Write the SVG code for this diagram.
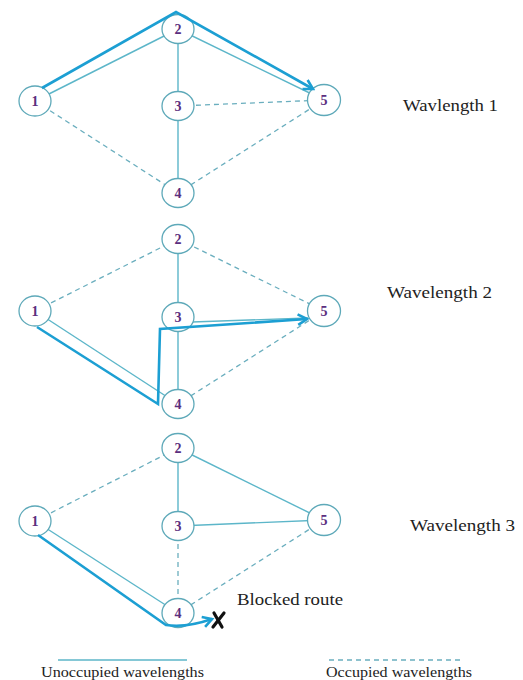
<svg xmlns="http://www.w3.org/2000/svg" width="523" height="680" viewBox="0 0 523 680">
  <style>
    .edge { stroke: #5cb6c9; stroke-width: 1.4; fill: none; }
    .occ { stroke: #6aaebe; stroke-width: 1.3; fill: none; stroke-dasharray: 5 4; }
    .route { stroke: #1c9fd3; stroke-width: 2.6; fill: none; stroke-linejoin: miter; marker-end: url(#arrow); }
    .node ellipse { fill: #ffffff; stroke: #5ea9b9; stroke-width: 1.3; }
    .node text { font-family: "Liberation Serif", "DejaVu Serif", serif; font-size: 14px; font-weight: bold; fill: #5b2e7e; text-anchor: middle; }
    .label { font-family: "Liberation Serif", "DejaVu Serif", serif; font-size: 17px; fill: #222222; }
    .legend { font-family: "Liberation Serif", "DejaVu Serif", serif; font-size: 14px; fill: #222222; }
  </style>
  <defs>
    <marker id="arrow" viewBox="0 0 10 10" refX="8" refY="5" markerWidth="5" markerHeight="5" orient="auto" markerUnits="strokeWidth">
      <path d="M1,1 L8,5 L1,9" fill="none" stroke="#1c9fd3" stroke-width="2"/>
    </marker>
  </defs>

  <!-- links per wavelength plane -->
  <g id="connectors">
    <!-- plane 1 -->
    <line class="edge" x1="35" y1="101" x2="178" y2="29"/>
    <line class="edge" x1="178" y1="29" x2="324" y2="100"/>
    <line class="edge" x1="178" y1="29" x2="178" y2="106"/>
    <line class="edge" x1="178" y1="106" x2="178" y2="193"/>
    <line class="occ" x1="178" y1="106" x2="324" y2="100"/>
    <line class="occ" x1="35" y1="101" x2="178" y2="193"/>
    <line class="occ" x1="324" y1="100" x2="178" y2="193"/>

    <!-- plane 2 -->
    <line class="occ" x1="35" y1="311" x2="178" y2="239"/>
    <line class="occ" x1="178" y1="239" x2="324" y2="311"/>
    <line class="edge" x1="178" y1="239" x2="178" y2="317"/>
    <line class="edge" x1="178" y1="317" x2="178" y2="404"/>
    <line class="edge" x1="35" y1="311" x2="178" y2="404"/>
    <line class="edge" x1="192" y1="322" x2="308" y2="318"/>
    <line class="occ" x1="324" y1="311" x2="178" y2="404"/>

    <!-- plane 3 -->
    <line class="occ" x1="35" y1="521" x2="178" y2="448"/>
    <line class="edge" x1="178" y1="448" x2="324" y2="520"/>
    <line class="edge" x1="178" y1="448" x2="178" y2="526"/>
    <line class="edge" x1="178" y1="526" x2="324" y2="520"/>
    <line class="occ" x1="178" y1="526" x2="178" y2="613"/>
    <line class="edge" x1="35" y1="521" x2="178" y2="613"/>
    <line class="occ" x1="324" y1="520" x2="178" y2="613"/>
  </g>

  <!-- plane 1 nodes -->
  <g id="p1-n1" class="node"><ellipse cx="35" cy="101" rx="16" ry="15"/><text x="35" y="106">1</text></g>
  <g id="p1-n2" class="node"><ellipse cx="178" cy="29" rx="16" ry="14.5"/><text x="178" y="34">2</text></g>
  <g id="p1-n3" class="node"><ellipse cx="178" cy="106" rx="16" ry="14.5"/><text x="178" y="111">3</text></g>
  <g id="p1-n4" class="node"><ellipse cx="178" cy="193" rx="16" ry="14.5"/><text x="178" y="198">4</text></g>
  <g id="p1-n5" class="node"><ellipse cx="324" cy="100" rx="16.5" ry="15.5"/><text x="324" y="105">5</text></g>

  <!-- plane 2 nodes -->
  <g id="p2-n1" class="node"><ellipse cx="35" cy="311" rx="16" ry="15"/><text x="35" y="316">1</text></g>
  <g id="p2-n2" class="node"><ellipse cx="178" cy="239" rx="16" ry="14.5"/><text x="178" y="244">2</text></g>
  <g id="p2-n3" class="node"><ellipse cx="178" cy="317" rx="16" ry="14.5"/><text x="178" y="322">3</text></g>
  <g id="p2-n4" class="node"><ellipse cx="178" cy="404" rx="16" ry="14.5"/><text x="178" y="409">4</text></g>
  <g id="p2-n5" class="node"><ellipse cx="324" cy="311" rx="16.5" ry="15.5"/><text x="324" y="316">5</text></g>

  <!-- plane 3 nodes -->
  <g id="p3-n1" class="node"><ellipse cx="35" cy="521" rx="16" ry="15"/><text x="35" y="526">1</text></g>
  <g id="p3-n2" class="node"><ellipse cx="178" cy="448" rx="16" ry="14.5"/><text x="178" y="453">2</text></g>
  <g id="p3-n3" class="node"><ellipse cx="178" cy="526" rx="16" ry="14.5"/><text x="178" y="531">3</text></g>
  <g id="p3-n4" class="node"><ellipse cx="178" cy="613" rx="16" ry="14.5"/><text x="178" y="618">4</text></g>
  <g id="p3-n5" class="node"><ellipse cx="324" cy="520" rx="16.5" ry="15.5"/><text x="324" y="525">5</text></g>

  <!-- established lightpaths -->
  <g id="routes">
    <path class="route" d="M42,88 L176,12 L313,89"/>
    <path class="route" d="M37,327 L158,404 L160,329 L307,319"/>
    <path class="route" d="M38,535 L166,625 Q186,628 212,619"/>
    <!-- blocked mark -->
    <g stroke="#111111" stroke-width="3.2" stroke-linecap="round">
      <line x1="214" y1="613" x2="222" y2="627"/>
      <line x1="224" y1="613" x2="213" y2="627"/>
    </g>
  </g>

  <!-- plane captions -->
  <text class="label" x="403" y="111" textLength="95" lengthAdjust="spacingAndGlyphs">Wavlength 1</text>
  <text class="label" x="387" y="298" textLength="105" lengthAdjust="spacingAndGlyphs">Wavelength 2</text>
  <text class="label" x="410" y="531" textLength="105" lengthAdjust="spacingAndGlyphs">Wavelength 3</text>
  <text class="label" x="237" y="605" textLength="106" lengthAdjust="spacingAndGlyphs">Blocked route</text>

  <!-- legend -->
  <g id="legend">
    <line class="edge" x1="58" y1="660" x2="187" y2="660"/>
    <text class="legend" x="41" y="677" textLength="163" lengthAdjust="spacingAndGlyphs">Unoccupied wavelengths</text>
    <line class="occ" x1="329" y1="660" x2="462" y2="660" stroke-dasharray="4 3"/>
    <text class="legend" x="326" y="677" textLength="146" lengthAdjust="spacingAndGlyphs">Occupied wavelengths</text>
  </g>
</svg>
